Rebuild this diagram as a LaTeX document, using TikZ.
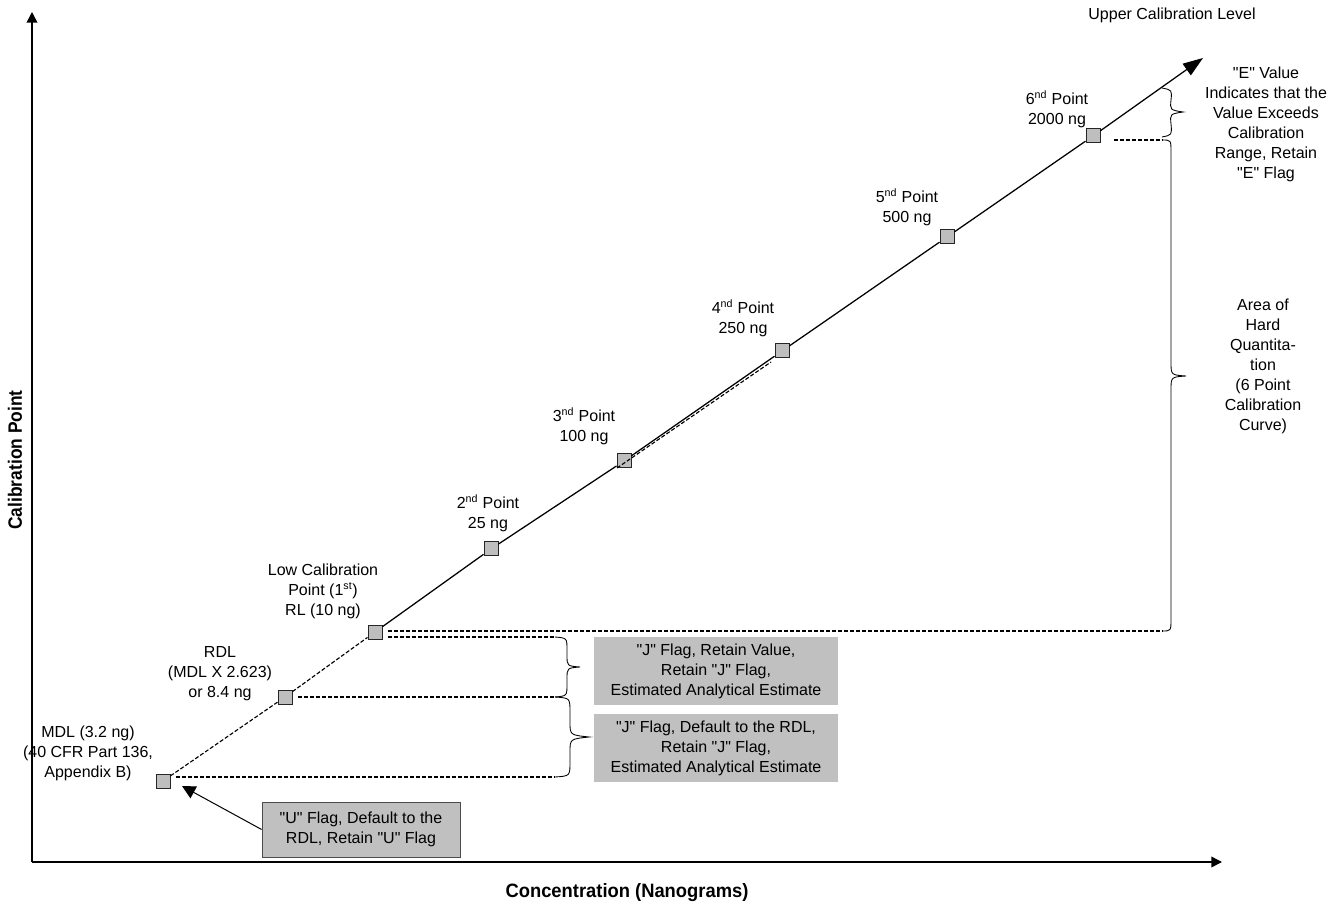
\documentclass[tikz,border=0pt]{standalone}
\usepackage{fontspec}
\setmainfont{Liberation Sans}
\newfontfamily\arial{Liberation Sans}
\usetikzlibrary{arrows.meta}
\definecolor{silver}{RGB}{192,192,192}
\definecolor{sqfill}{RGB}{190,190,190}
\begin{document}
\begin{tikzpicture}[x=0.75pt,y=-0.75pt,
  txt/.style={align=center,font=\arial\fontsize{12}{15}\selectfont,inner sep=0pt},
  calpt/.style={draw=black!85,fill=sqfill,minimum size=10.5pt,inner sep=0pt,line width=0.75pt},
  jbox/.style={fill=silver,align=center,font=\arial\fontsize{12}{15}\selectfont,inner sep=0pt,minimum width=183pt,minimum height=51pt},
  ubox/.style={fill=silver,draw=black!70,line width=0.6pt,align=center,font=\arial\fontsize{12}{15}\selectfont,inner sep=0pt,minimum width=148.5pt,minimum height=41.25pt},
  dsh/.style={dash pattern=on 3pt off 1.5pt,line width=0.85pt},
  mainline/.style={line width=0.95pt},
  axis/.style={line width=1.1pt,-{Triangle[length=8pt,width=8pt]}},
  brc/.style={line width=0.65pt},
  axlabel/.style={font=\arial\fontsize{14.5}{16}\selectfont\bfseries,inner sep=0pt}]
\useasboundingbox (0,0) rectangle (1336,923);

% axes
\coordinate (O) at (32,862);
\coordinate (Ytop) at (32,12);
\coordinate (Xend) at (1222,862);
\draw[axis] (O) -- (Ytop);
\draw[axis] (O) -- (Xend);
\node[axlabel,rotate=90] (ylab) at (15,460) {\scalebox{0.9}[1]{Calibration Point}};
\node[axlabel] (xlab) at (627,893) {\scalebox{0.95}[1]{Concentration (Nanograms)}};

% calibration points
\node[calpt] (p0) at (163,781) {};
\node[calpt] (p1) at (285,697) {};
\node[calpt] (p2) at (375,632) {};
\node[calpt] (p3) at (491,549) {};
\node[calpt] (p4) at (624,461) {};
\node[calpt] (p5) at (782,351) {};
\node[calpt] (p6) at (947,237) {};
\node[calpt] (p7) at (1093,136) {};
\coordinate (tip) at (1203,58);

% main line
\draw[mainline] (p2) -- (p3) -- (p4) -- (p5) -- (p6) -- (p7);
\draw[mainline,-{Triangle[length=15pt,width=10.5pt]}] (p7) -- (tip);
\draw[dsh] (p0) -- (p1) -- (p2);
\draw[dsh] ([shift={(-7,7)}]p4.center) -- ([shift={(-11,11)}]p5.center);

% brace end coordinates
\coordinate (ebB) at (1162,140);
\coordinate (bbB) at (1162,631);
\coordinate (jaT) at (555,637);
\coordinate (jaB) at (555,697);
\coordinate (jbB) at (555,777);

% dashed level lines
\draw[dsh] ([shift={(13,4)}]p7.east) -- (ebB);
\draw[dsh] ([shift={(5,-1)}]p2.east) -- (bbB);
\draw[dsh] ([shift={(5,5)}]p2.east) -- (jaT);
\draw[dsh] ([xshift=4pt]p1.east) -- (jaB);
\draw[dsh] ([shift={(5,-4)}]p0.east) -- (jbB);

% braces
\draw[brc] (1162,88) .. controls (1172,90) .. (1171,100) .. controls (1170,110) .. (1183,112)
  .. controls (1170,114) .. (1171,124) .. controls (1172,135) .. (1162,137);
\draw[brc] (1162,140) .. controls (1171,140) .. (1171,152) -- (1171,362)
  .. controls (1171,375) .. (1186,376) .. controls (1171,377) .. (1171,390) -- (1171,619)
  .. controls (1171,631) .. (1162,631);
\draw[brc] (555,637) .. controls (567,638) .. (567,650) -- (567,655) .. controls (567,666) .. (580,667)
  .. controls (567,668) .. (567,679) -- (567,684) .. controls (567,696) .. (555,697);
\draw[brc] (555,697) .. controls (570,698) .. (570,712) -- (570,722) .. controls (570,735) .. (589,737)
  .. controls (570,739) .. (570,752) -- (570,762) .. controls (570,776) .. (555,777);

% point labels
\node[txt] (l0) at (88,753) {MDL (3.2 ng)\\(40 CFR Part 136,\\Appendix B)};
\node[txt] (l1) at (220,674) {RDL\\(MDL X 2.623)\\or 8.4 ng};
\node[txt] (l2) at (323,591) {Low Calibration\\Point (1\textsuperscript{st})\\RL (10 ng)};
\node[txt] (l3) at (488,513) {2\textsuperscript{nd} Point\\25 ng};
\node[txt] (l4) at (584,426) {3\textsuperscript{nd} Point\\100 ng};
\node[txt] (l5) at (743,318) {4\textsuperscript{nd} Point\\250 ng};
\node[txt] (l6) at (907,207) {5\textsuperscript{nd} Point\\500 ng};
\node[txt] (l7) at (1057,109) {6\textsuperscript{nd} Point\\2000 ng};

% right-hand texts
\node[txt] (upper) at (1172,15) {Upper Calibration Level};
\node[txt] (etext) at (1266,124) {"E" Value\\Indicates that the\\Value Exceeds\\Calibration\\Range, Retain\\"E" Flag};
\node[txt] (area) at (1263,366) {Area of\\Hard\\Quantita-\\tion\\(6 Point\\Calibration\\Curve)};

% flag boxes
\node[jbox] (ja) at (716,671) {"J" Flag, Retain Value,\\Retain "J" Flag,\\Estimated Analytical Estimate};
\node[jbox] (jb) at (716,748) {"J" Flag, Default to the RDL,\\Retain "J" Flag,\\Estimated Analytical Estimate};
\node[ubox] (ub) at (361,829.5) {"U" Flag, Default to the\\RDL, Retain "U" Flag};
\coordinate (uT) at (182,786);
\draw[line width=0.75pt,-{Triangle[length=10pt,width=10pt]}] (ub.west) -- (uT);
\end{tikzpicture}
\end{document}
